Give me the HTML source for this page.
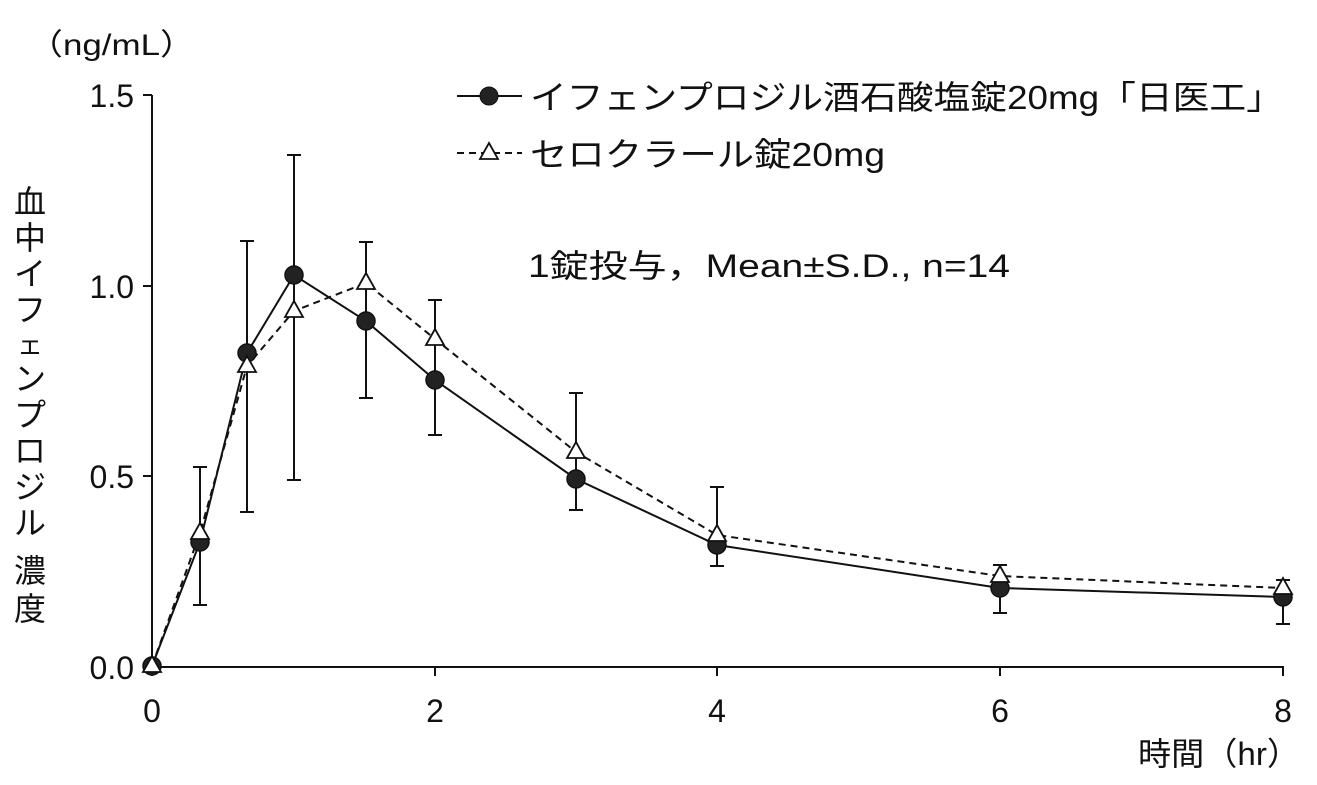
<!DOCTYPE html>
<html><head><meta charset="utf-8"><style>
html,body{margin:0;padding:0;background:#fff;}
svg{display:block;}
text{font-family:"Liberation Sans","Noto Sans CJK JP",sans-serif;fill:#111;}
</style></head><body>
<svg width="1317" height="785" viewBox="0 0 1317 785" xmlns="http://www.w3.org/2000/svg">
<g stroke="#111" stroke-width="2" fill="none">
<line x1="152" y1="95" x2="152" y2="667"/>
<line x1="151" y1="667" x2="1284" y2="667"/>
<line x1="143" y1="95" x2="152" y2="95"/>
<line x1="143" y1="286" x2="152" y2="286"/>
<line x1="143" y1="476" x2="152" y2="476"/>
<line x1="143" y1="667" x2="152" y2="667"/>
<line x1="152" y1="667" x2="152" y2="676"/>
<line x1="435" y1="667" x2="435" y2="676"/>
<line x1="717" y1="667" x2="717" y2="676"/>
<line x1="1000" y1="667" x2="1000" y2="676"/>
<line x1="1283" y1="667" x2="1283" y2="676"/>
</g>
<g font-size="32" text-anchor="end">
<text x="134" y="107">1.5</text><text x="134" y="298">1.0</text><text x="134" y="488">0.5</text><text x="134" y="679">0.0</text>
</g>
<g font-size="32" text-anchor="middle">
<text x="152" y="722">0</text><text x="435" y="722">2</text><text x="717" y="722">4</text><text x="1000" y="722">6</text><text x="1283" y="722">8</text>
</g>
<text x="28" y="55" font-size="30" textLength="167" lengthAdjust="spacingAndGlyphs">（ng/mL）</text>
<text x="1138" y="765" font-size="32" textLength="162" lengthAdjust="spacingAndGlyphs">時間（hr）</text>
<g font-size="32" text-anchor="middle">
<text x="30" y="213">血</text><text x="30" y="249">中</text><text x="30" y="285">イ</text><text x="30" y="321">フ</text><text x="30" y="354" font-size="26">ェ</text><text x="30" y="390">ン</text><text x="30" y="426">プ</text><text x="30" y="462">ロ</text><text x="30" y="498">ジ</text><text x="30" y="534">ル</text><text x="30" y="582">濃</text><text x="30" y="620">度</text>
</g>
<g stroke="#111" stroke-width="2">
<path d="M200 467V605M193 467h14M193 605h14"/>
<path d="M247 241V512M240 241h14M240 512h14"/>
<path d="M294 155V480M287 155h14M287 480h14"/>
<path d="M366 242V398M359 242h14M359 398h14"/>
<path d="M435 300V435M428 300h14M428 435h14"/>
<path d="M576 393V510M569 393h14M569 510h14"/>
<path d="M717 487V566M710 487h14M710 566h14"/>
<path d="M1000 565V613M993 565h14M993 613h14"/>
<path d="M1283 580V624M1276 580h14M1276 624h14"/>
</g>
<polyline fill="none" stroke="#111" stroke-width="2" stroke-dasharray="7,5" points="152,666 200,533 247,366 294,311 366,283 435,339 576,452 717,535 1000,576 1283,588"/>
<polyline fill="none" stroke="#111" stroke-width="2" points="152,666 200,542 247,353 294,275 366,321 435,380 576,479 717,545 1000,588 1283,597"/>
<g fill="#222" stroke="#111" stroke-width="1.5">
<circle cx="152" cy="666" r="9"/><circle cx="200" cy="542" r="9"/><circle cx="247" cy="353" r="9"/><circle cx="294" cy="275" r="9"/><circle cx="366" cy="321" r="9"/><circle cx="435" cy="380" r="9"/><circle cx="576" cy="479" r="9"/><circle cx="717" cy="545" r="9"/><circle cx="1000" cy="588" r="9"/><circle cx="1283" cy="597" r="9"/>
</g>
<g fill="#fff" stroke="#111" stroke-width="1.8">
<path d="M152 656l9 16h-18z"/><path d="M200 523l9 16h-18z"/><path d="M247 356l9 16h-18z"/><path d="M294 301l9 16h-18z"/><path d="M366 273l9 16h-18z"/><path d="M435 329l9 16h-18z"/><path d="M576 442l9 16h-18z"/><path d="M717 525l9 16h-18z"/><path d="M1000 566l9 16h-18z"/><path d="M1283 578l9 16h-18z"/>
</g>
<line x1="457" y1="96" x2="522" y2="96" stroke="#111" stroke-width="2"/>
<circle cx="489" cy="96" r="9" fill="#222" stroke="#111"/>
<text x="530" y="109" font-size="33" textLength="753" lengthAdjust="spacingAndGlyphs">イフェンプロジル酒石酸塩錠20mg「日医工」</text>
<line x1="457" y1="153" x2="522" y2="153" stroke="#111" stroke-width="2" stroke-dasharray="7,5"/>
<path d="M489 143l9 16h-18z" fill="#fff" stroke="#111" stroke-width="1.8"/>
<text x="530" y="166" font-size="33" textLength="355" lengthAdjust="spacingAndGlyphs">セロクラール錠20mg</text>
<text x="528" y="277" font-size="32" textLength="482" lengthAdjust="spacingAndGlyphs">1錠投与，Mean±S.D., n=14</text>
</svg>
</body></html>
